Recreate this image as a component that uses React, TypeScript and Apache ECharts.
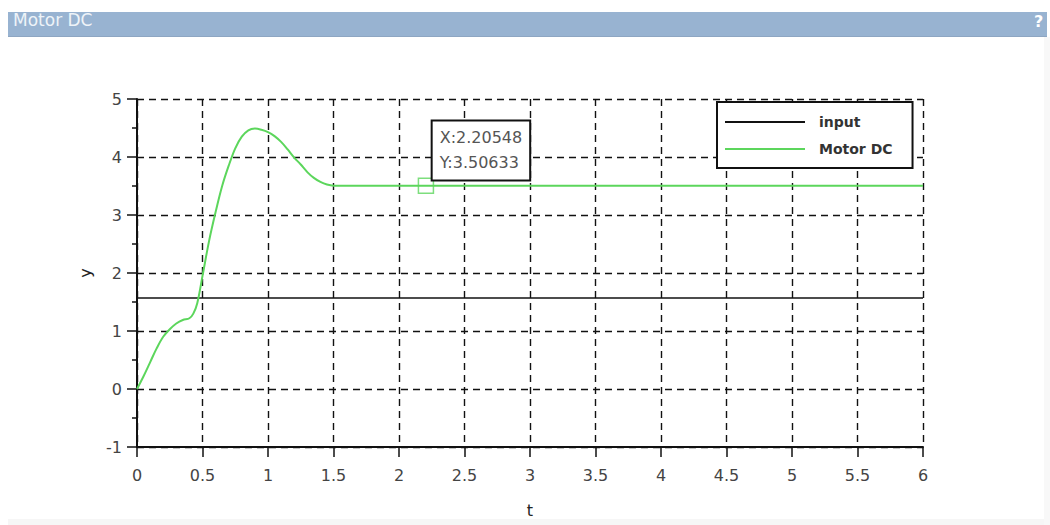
import React, { useEffect, useRef } from "react";
import * as echarts from "echarts";

const title = "Motor DC";
const seriesNames = ["input", "Motor DC"];
const xTicks = { min: 0, max: 6, interval: 0.5 };
const yTicks = { min: -1, max: 5, interval: 1 };

const inputT = [0, 6];
const inputY = [1.5708, 1.5708];

const motorT = [
  0, 0.05, 0.1, 0.15, 0.2, 0.25, 0.3, 0.35, 0.4, 0.43, 0.46, 0.5, 0.55, 0.6,
  0.65, 0.7, 0.75, 0.8, 0.85, 0.9, 0.95, 1.0, 1.05, 1.1, 1.15, 1.2, 1.25, 1.3,
  1.35, 1.4, 1.45, 1.5, 2, 2.5, 3, 3.5, 4, 4.5, 5, 5.5, 6,
];
const motorY = [
  0, 0.22, 0.46, 0.7, 0.9, 1.03, 1.13, 1.19, 1.22, 1.3, 1.48, 1.95, 2.55, 3.05,
  3.5, 3.85, 4.15, 4.35, 4.46, 4.49, 4.47, 4.43, 4.36, 4.26, 4.13, 3.99, 3.87,
  3.74, 3.64, 3.57, 3.525, 3.50633, 3.50633, 3.50633, 3.50633, 3.50633,
  3.50633, 3.50633, 3.50633, 3.50633, 3.50633,
];

const cursorPoint = [2.20548, 3.50633];

const GREEN = "#5cd65c";
const FONT = "DejaVu Sans";

export default function App() {
  const ref = useRef<HTMLDivElement>(null);
  useEffect(() => {
    if (!ref.current) return;
    const chart = echarts.init(ref.current, undefined, { renderer: "svg" });
    const gridLine = { show: true, lineStyle: { color: "#111", type: [7, 5], width: 1.4 } };
    chart.setOption({
      animation: false,
      backgroundColor: "#ffffff",
      graphic: [
        { type: "rect", shape: { x: 8, y: 12, width: 1039, height: 25 }, style: { fill: "#98b3d1" }, z: 0 },
        { type: "rect", shape: { x: 8, y: 36, width: 1039, height: 1 }, style: { fill: "#8ea6c2" }, z: 0 },
        { type: "rect", shape: { x: 8, y: 519, width: 1039, height: 6 }, style: { fill: "#f6f6f6" }, z: 0 },
        { type: "rect", shape: { x: 1044, y: 37, width: 6, height: 488 }, style: { fill: "#f8f8f8" }, z: 0 },
        {
          type: "text", x: 13, y: 11,
          style: { text: title, fill: "#eef3f8", font: `17px "${FONT}"`, textVerticalAlign: "top" },
          z: 1,
        },
        {
          type: "text", x: 1034, y: 13,
          style: { text: "?", fill: "#ffffff", font: `bold 16px "${FONT}"`, textVerticalAlign: "top" },
          z: 1,
        },
      ],
      grid: { left: 137, right: 127, top: 99, bottom: 78, containLabel: false },
      legend: {
        data: seriesNames,
        orient: "vertical",
        left: 717,
        top: 102,
        padding: [12, 20, 11, 8],
        itemGap: 11,
        itemWidth: 80,
        itemHeight: 2,
        icon: "rect",
        backgroundColor: "#ffffff",
        borderColor: "#111",
        borderWidth: 2,
        borderRadius: 0,
        textStyle: { fontFamily: FONT, fontSize: 14, fontWeight: "bold", color: "#333", lineHeight: 16, padding: [0, 0, 0, 9] },
      },
      xAxis: {
        type: "value",
        min: xTicks.min,
        max: xTicks.max,
        interval: xTicks.interval,
        name: "t",
        nameLocation: "middle",
        nameGap: 55,
        nameTextStyle: { fontFamily: FONT, fontSize: 16, color: "#222" },
        axisLine: { show: true, onZero: false, lineStyle: { color: "#111", width: 2 } },
        axisTick: { show: true, length: 10, lineStyle: { color: "#111", width: 1.5 } },
        axisLabel: { margin: 20, fontFamily: FONT, fontSize: 16, color: "#444" },
        splitLine: gridLine,
      },
      yAxis: {
        type: "value",
        min: yTicks.min,
        max: yTicks.max,
        interval: yTicks.interval,
        name: "y",
        nameLocation: "middle",
        nameRotate: 90,
        nameGap: 44,
        nameTextStyle: { fontFamily: FONT, fontSize: 16, color: "#222" },
        axisLine: { show: true, onZero: false, lineStyle: { color: "#111", width: 2 } },
        axisTick: { show: true, length: 10, lineStyle: { color: "#111", width: 1.5 } },
        minorTick: { show: true, splitNumber: 2, length: 5, lineStyle: { color: "#111", width: 1.5 } },
        axisLabel: { margin: 15, fontFamily: FONT, fontSize: 16, color: "#444" },
        splitLine: gridLine,
      },
      series: [
        {
          name: seriesNames[0],
          type: "line",
          color: "#111",
          data: inputT.map((t, i) => [t, inputY[i]]),
          showSymbol: false,
          symbol: "none",
          lineStyle: { color: "#111", width: 1.5 },
          z: 3,
        },
        {
          name: seriesNames[1],
          type: "line",
          color: GREEN,
          data: motorT.map((t, i) => [t, motorY[i]]),
          showSymbol: false,
          symbol: "none",
          smooth: 0.35,
          lineStyle: { color: GREEN, width: 2 },
          z: 4,
        },
        {
          name: "cursor",
          type: "scatter",
          data: [cursorPoint],
          symbol: "rect",
          symbolSize: 15,
          itemStyle: { color: "rgba(0,0,0,0)", borderColor: GREEN, borderWidth: 1.5 },
          z: 6,
          label: {
            show: true,
            position: [15, -56],
            formatter: (p: any) => `X:${p.value[0]}\nY:${p.value[1]}`,
            fontFamily: FONT,
            fontSize: 16,
            color: "#555",
            lineHeight: 25,
            backgroundColor: "#ffffff",
            borderColor: "#111",
            borderWidth: 2,
            textBorderWidth: 0,
            textShadowBlur: 0,
            shadowBlur: 0,
            opacity: 1,
            padding: [4, 7, 4, 7],
          },
        },
      ],
    });
    return () => chart.dispose();
  }, []);
  return (
    <div
      ref={ref}
      style={{ position: "fixed", left: 0, top: 0, width: 1050, height: 525 }}
    />
  );
}
